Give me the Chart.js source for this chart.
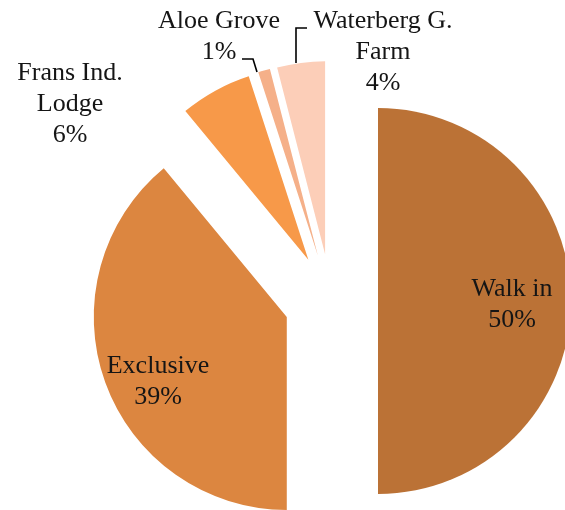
<!DOCTYPE html>
<html>
<head>
<meta charset="utf-8">
<title>Bookings by source</title>
<script src="https://cdn.jsdelivr.net/npm/chart.js@4.4.1/dist/chart.umd.min.js"></script>
<style>
  html, body { margin: 0; padding: 0; background: #fff; }
  #wrap { width: 565px; height: 510px; position: relative; }
</style>
</head>
<body>
<div id="wrap"><canvas id="pieChart"></canvas></div>
<script>
// Share of bookings per source (percent)
const sources = ["Walk in", "Exclusive", "Frans Ind. Lodge", "Aloe Grove", "Waterberg G. Farm"];
const shares = [50, 39, 6, 1, 4];
const colors = ["#BB7236", "#DC8640", "#F79949", "#F5B089", "#FCCEB8"];

// label lines (name split over rows) and where they sit on the canvas
const labelLines = [["Walk in"], ["Exclusive"], ["Frans Ind.", "Lodge"], ["Aloe Grove"], ["Waterberg G.", "Farm"]];
const labelAt = [
  { x: 512, y: 296 },
  { x: 158, y: 373 },
  { x: 70, y: 80 },
  { x: 219, y: 28 },
  { x: 383, y: 28 }
];

// small connector lines for the two thin slices at the top
const leaders = [
  [[242, 59], [253, 59], [257, 72]],
  [[307, 28], [296, 28], [296, 63]]
];

// how far each slice is pulled out from the centre (px)
const explode = 47;

// the built-in arc offset also grows the radius, so move the slices by hand
const explodeSlices = {
  id: 'explodeSlices',
  afterDatasetUpdate(chart, args) {
    const area = chart.chartArea;
    const cx = (area.left + area.right) / 2;
    const cy = (area.top + area.bottom) / 2;
    chart.getDatasetMeta(args.index).data.forEach(arc => {
      const half = (arc.startAngle + arc.endAngle) / 2;
      arc.x = cx + Math.cos(half) * explode;
      arc.y = cy + Math.sin(half) * explode;
    });
  }
};

const pieLabels = {
  id: 'pieLabels',
  afterDatasetsDraw(chart) {
    const ctx = chart.ctx;
    ctx.save();
    ctx.font = '26px "Liberation Serif", "Times New Roman", serif';
    ctx.fillStyle = '#151515';
    ctx.textAlign = 'center';
    ctx.textBaseline = 'alphabetic';
    const data = chart.data.datasets[0].data;
    labelLines.forEach((lines, i) => {
      const rows = lines.concat([data[i] + '%']);
      rows.forEach((txt, j) => {
        ctx.fillText(txt, labelAt[i].x, labelAt[i].y + j * 31);
      });
    });

    ctx.strokeStyle = '#000';
    ctx.lineWidth = 1.6;
    leaders.forEach(pts => {
      ctx.beginPath();
      ctx.moveTo(pts[0][0], pts[0][1]);
      for (let k = 1; k < pts.length; k++) ctx.lineTo(pts[k][0], pts[k][1]);
      ctx.stroke();
    });
    ctx.restore();
  }
};

const ctx = document.getElementById('pieChart').getContext('2d');
window.pieChart = new Chart(ctx, {
  type: 'pie',
  data: {
    labels: sources,
    datasets: [{
      data: shares,
      backgroundColor: colors,
      borderWidth: 0,
      offset: 0,
      hoverOffset: 0,
      clip: false
    }]
  },
  options: {
    responsive: true,
    maintainAspectRatio: false,
    animation: false,
    radius: 193,
    layout: {
      padding: { left: 97, top: 92, right: 0, bottom: 0 }
    },
    plugins: {
      legend: { display: false },
      tooltip: { enabled: false }
    }
  },
  plugins: [explodeSlices, pieLabels]
});
</script>
</body>
</html>
